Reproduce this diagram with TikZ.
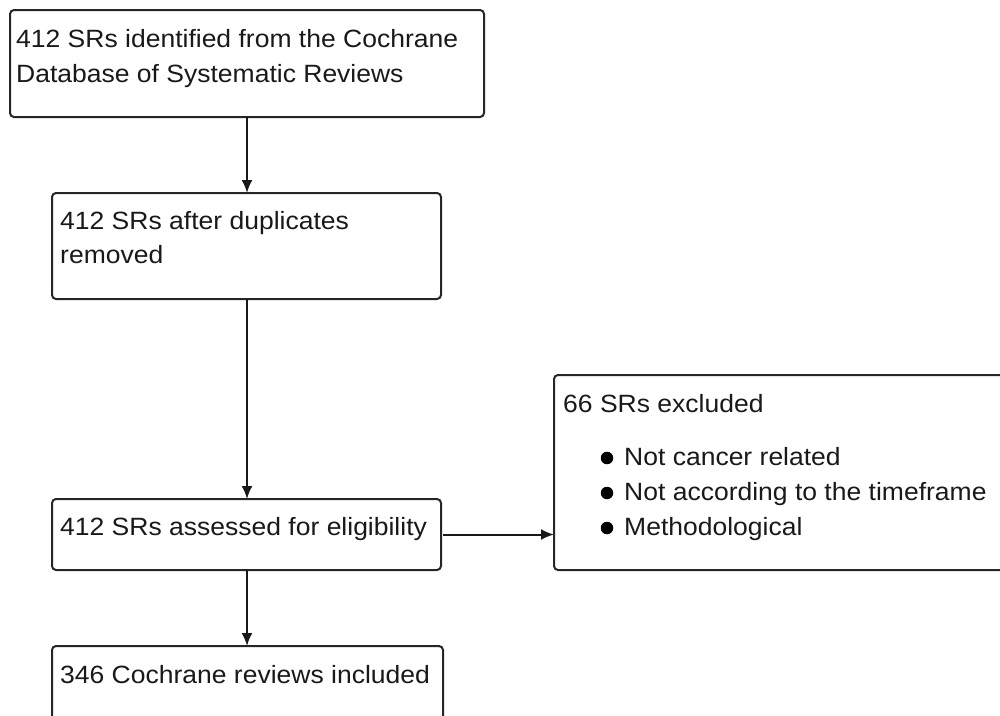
\documentclass[tikz,border=0pt]{standalone}
\usepackage{fontspec}
\setmainfont{Liberation Sans}[FakeStretch=1.06]
\usetikzlibrary{arrows.meta}
\begin{document}
\begin{tikzpicture}[x=1pt,y=-1pt,
  box/.style={draw=black!85, line width=2pt, rounded corners=4pt, anchor=north west, inner sep=0pt, outer sep=0pt},
  txt/.style={anchor=base west, inner sep=0pt, font=\fontsize{25}{34}\selectfont, text=black!90},
  conn/.style={draw=black!90, line width=2pt, -{Latex[length=13pt,width=11pt]}},
  bul/.style={circle, fill=black, inner sep=0pt, minimum size=12.5pt}]
\useasboundingbox (0,0) rectangle (1000,715);
\clip (0,0) rectangle (1000,715);
\node[box, minimum width=474pt, minimum height=107pt] (b1) at (10,10) {};
\node[box, minimum width=389pt, minimum height=106pt] (b2) at (52,193) {};
\node[box, minimum width=389pt, minimum height=71pt] (b3) at (52,499) {};
\node[box, minimum width=391pt, minimum height=90pt] (b4) at (52,646) {};
\node[box, minimum width=470pt, minimum height=195pt] (b5) at (554,375) {};

\node[txt] (t1a) at (16,47) {412 SRs identified from the Cochrane};
\node[txt] (t1b) at (16,82) {Database of Systematic Reviews};
\node[txt] (t2a) at (60,229) {412 SRs after duplicates};
\node[txt] (t2b) at (60,263) {removed};
\node[txt] (t3) at (60,535) {412 SRs assessed for eligibility};
\node[txt] (t4) at (60,683) {346 Cochrane reviews included};
\node[txt] (t5) at (563,412) {66 SRs excluded};
\node[txt] (i1) at (624,465) {Not cancer related};
\node[txt] (i2) at (624,500) {Not according to the timeframe};
\node[txt] (i3) at (624,535) {Methodological};
\node[bul] (d1) at (607,458) {};
\node[bul] (d2) at (607,493) {};
\node[bul] (d3) at (607,528) {};

\draw[conn] (b1.south) -- (b1.south |- b2.north);
\draw[conn] (b1.south |- b2.south) -- (b1.south |- b3.north);
\draw[conn] (b1.south |- b3.south) -- (b1.south |- b4.north);
\draw[conn] ([xshift=2pt]b3.east) -- (b3.east -| b5.west);
\end{tikzpicture}
\end{document}
